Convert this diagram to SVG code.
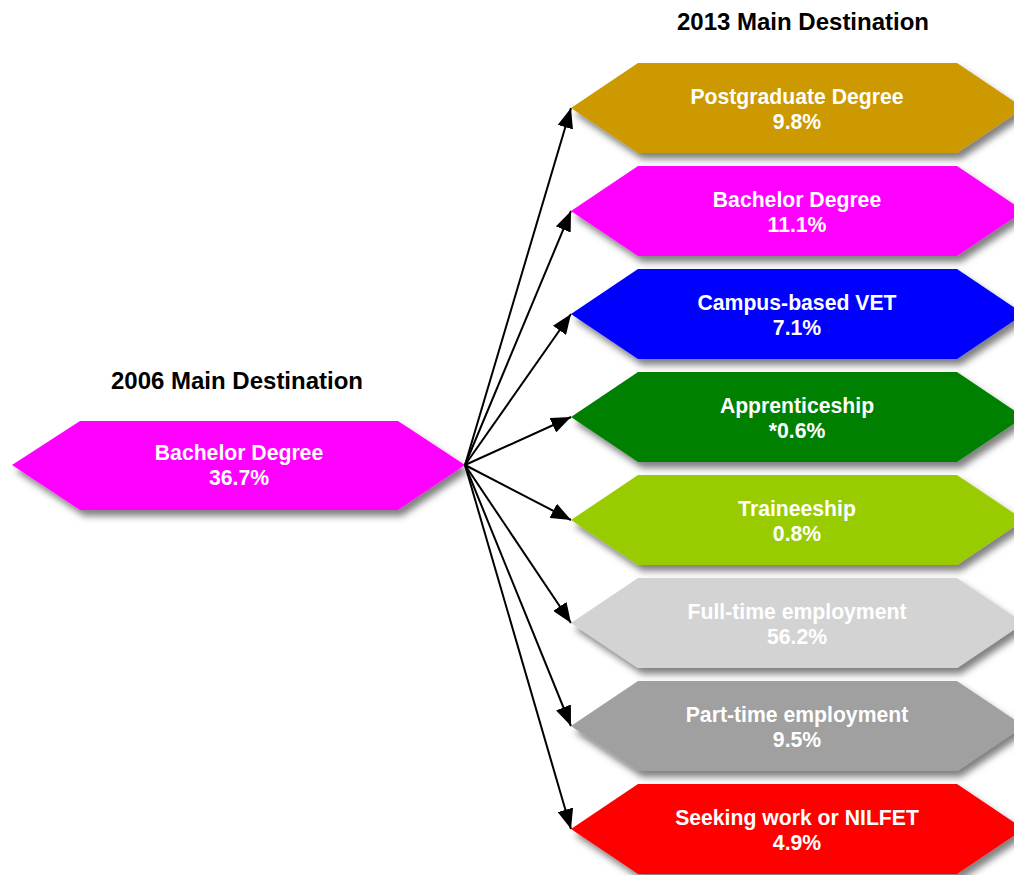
<svg xmlns="http://www.w3.org/2000/svg" width="1014" height="875" viewBox="0 0 1014 875">
<defs>
<style>
.t{font-family:"Liberation Sans",Arial,sans-serif;font-weight:bold;font-size:21.2px;text-anchor:middle}
.ttl{font-size:24px}
.w{fill:#ffffff}
.h{fill:#000000}
</style>
<filter id="sh" x="-10%" y="-20%" width="130%" height="150%">
<feDropShadow dx="4" dy="6" stdDeviation="3.5" flood-color="#000" flood-opacity="0.5"/>
</filter>
<marker id="ah2" viewBox="0 0 20 16" refX="20" refY="8" markerWidth="20" markerHeight="16" markerUnits="userSpaceOnUse" orient="auto">
<path d="M0,0 L20,8 L0,16 z" fill="#000"/>
</marker>
</defs>
<text class="t ttl h" x="803" y="30">2013 Main Destination</text>
<text class="t ttl h" x="237" y="389">2006 Main Destination</text>
<g id="source">
<polygon points="12,465 80,421 398,421 465,465 398,510 80,510" fill="#FF00FF" filter="url(#sh)"/>
<text class="t w" x="239" y="460">Bachelor Degree</text>
<text class="t w" x="239" y="485">36.7%</text>
</g>
<g id="connectors" stroke="#000" stroke-width="2" fill="none">
<line x1="465" y1="465" x2="571" y2="108" marker-end="url(#ah2)"/>
<line x1="465" y1="465" x2="571" y2="211" marker-end="url(#ah2)"/>
<line x1="465" y1="465" x2="571" y2="314" marker-end="url(#ah2)"/>
<line x1="465" y1="465" x2="571" y2="417" marker-end="url(#ah2)"/>
<line x1="465" y1="465" x2="571" y2="520" marker-end="url(#ah2)"/>
<line x1="465" y1="465" x2="571" y2="623" marker-end="url(#ah2)"/>
<line x1="465" y1="465" x2="571" y2="726" marker-end="url(#ah2)"/>
<line x1="465" y1="465" x2="571" y2="829" marker-end="url(#ah2)"/>
</g>
<g id="postgraduate">
<polygon points="571,108 638,63 957,63 1024,108 957,153 638,153" fill="#CC9900" filter="url(#sh)"/>
<text class="t w" x="797" y="104">Postgraduate Degree</text>
<text class="t w" x="797" y="129">9.8%</text>
</g>
<g id="bachelor">
<polygon points="571,211 638,166 957,166 1024,211 957,256 638,256" fill="#FF00FF" filter="url(#sh)"/>
<text class="t w" x="797" y="207">Bachelor Degree</text>
<text class="t w" x="797" y="232">11.1%</text>
</g>
<g id="campus-vet">
<polygon points="571,314 638,269 957,269 1024,314 957,359 638,359" fill="#0000FF" filter="url(#sh)"/>
<text class="t w" x="797" y="310">Campus-based VET</text>
<text class="t w" x="797" y="335">7.1%</text>
</g>
<g id="apprenticeship">
<polygon points="571,417 638,372 957,372 1024,417 957,462 638,462" fill="#008000" filter="url(#sh)"/>
<text class="t w" x="797" y="413">Apprenticeship</text>
<text class="t w" x="797" y="438">*0.6%</text>
</g>
<g id="traineeship">
<polygon points="571,520 638,475 957,475 1024,520 957,565 638,565" fill="#99CC00" filter="url(#sh)"/>
<text class="t w" x="797" y="516">Traineeship</text>
<text class="t w" x="797" y="541">0.8%</text>
</g>
<g id="full-time">
<polygon points="571,623 638,578 957,578 1024,623 957,668 638,668" fill="#D3D3D3" filter="url(#sh)"/>
<text class="t w" x="797" y="619">Full-time employment</text>
<text class="t w" x="797" y="644">56.2%</text>
</g>
<g id="part-time">
<polygon points="571,726 638,681 957,681 1024,726 957,771 638,771" fill="#A0A0A0" filter="url(#sh)"/>
<text class="t w" x="797" y="722">Part-time employment</text>
<text class="t w" x="797" y="747">9.5%</text>
</g>
<g id="seeking">
<polygon points="571,829 638,784 957,784 1024,829 957,874 638,874" fill="#FF0000" filter="url(#sh)"/>
<text class="t w" x="797" y="825">Seeking work or NILFET</text>
<text class="t w" x="797" y="850">4.9%</text>
</g>
</svg>
